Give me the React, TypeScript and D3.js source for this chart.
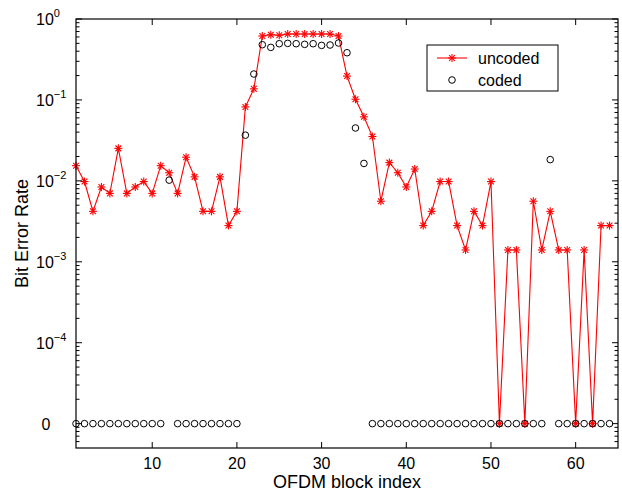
import React from "react";
import * as d3 from "d3";

// block index 1..64
const blocks = d3.range(1, 65);

const uncoded = [
  0.0154, 0.0098, 0.0042, 0.0084, 0.007, 0.0252, 0.007, 0.0084, 0.0098, 0.007,
  0.0154, 0.0126, 0.007, 0.0196, 0.0112, 0.0042, 0.0042, 0.0112, 0.0028, 0.0042,
  0.082, 0.137, 0.616, 0.64, 0.63, 0.652, 0.652, 0.652, 0.652, 0.652,
  0.652, 0.616, 0.197, 0.102, 0.0618, 0.0353, 0.0056, 0.0168, 0.0126, 0.0084,
  0.014, 0.0028, 0.0042, 0.0098, 0.0098, 0.0028, 0.0014, 0.0042, 0.0028, 0.0098,
  0, 0.0014, 0.0014, 0, 0.0056, 0.0014, 0.0042, 0.0014, 0.0014, 0,
  0.0014, 0, 0.0028, 0.0028,
];

const coded = [
  0, 0, 0, 0, 0, 0, 0, 0, 0, 0,
  0, 0.0102, 0, 0, 0, 0, 0, 0, 0, 0,
  0.0367, 0.209, 0.481, 0.446, 0.495, 0.5, 0.495, 0.486, 0.495, 0.472,
  0.477, 0.505, 0.383, 0.045, 0.0164, 0, 0, 0, 0, 0,
  0, 0, 0, 0, 0, 0, 0, 0, 0, 0,
  0, 0, 0, 0, 0, 0, 0.0183, 0, 0, 0,
  0, 0, 0, 0,
];

const xTicks = [10, 20, 30, 40, 50, 60];
const yExponents = [0, -1, -2, -3, -4];
const ZERO_AT = 1e-5; // zero BER is drawn at this level, labelled "0"

const W = 622;
const H = 492;
const m = { left: 76, right: 618, top: 19, bottom: 448 };
const font = "'Liberation Sans', Arial, Helvetica, sans-serif";

const x = d3.scaleLinear().domain([1, 65]).range([m.left, m.right]);
const y = d3.scaleLog().domain([5e-6, 1]).range([m.bottom, m.top]);
const yv = (v: number) => y(v === 0 ? ZERO_AT : v);

const Star = ({ cx, cy, r = 4 }: { cx: number; cy: number; r?: number }) => {
  const d = r * 0.72;
  return (
    <g stroke="#ff0000" strokeWidth={1.1}>
      <line x1={cx - r} y1={cy} x2={cx + r} y2={cy} />
      <line x1={cx} y1={cy - r} x2={cx} y2={cy + r} />
      <line x1={cx - d} y1={cy - d} x2={cx + d} y2={cy + d} />
      <line x1={cx - d} y1={cy + d} x2={cx + d} y2={cy - d} />
    </g>
  );
};

export default function App() {
  const line = d3
    .line<number>()
    .x((_, i) => x(blocks[i]))
    .y((v) => yv(v));

  // minor log ticks, 2..9 per decade, from 5e-6 up to 1
  const minor: number[] = [];
  for (let e = -6; e < 0; e++) {
    for (let k = 2; k <= 9; k++) {
      const v = k * Math.pow(10, e);
      if (v >= 5e-6 && v < 1) minor.push(v);
    }
  }
  const majorY = [...yExponents.map((e) => Math.pow(10, e)), ZERO_AT];

  return (
    <svg
      width={W}
      height={H}
      style={{ position: "absolute", left: 0, top: 0, background: "#fff" }}
      fontFamily={font}
    >
      <rect width={W} height={H} fill="#fff" />

      {/* uncoded */}
      <path d={line(uncoded) || ""} fill="none" stroke="#ff0000" strokeWidth={1.1} />
      {uncoded.map((v, i) => (
        <Star key={"s" + i} cx={x(blocks[i])} cy={yv(v)} />
      ))}

      {/* coded */}
      {coded.map((v, i) => (
        <circle
          key={"c" + i}
          cx={x(blocks[i])}
          cy={yv(v)}
          r={3.3}
          fill="none"
          stroke="#000"
          strokeWidth={1}
        />
      ))}

      {/* axes box */}
      <rect
        x={m.left}
        y={m.top}
        width={m.right - m.left}
        height={m.bottom - m.top}
        fill="none"
        stroke="#000"
        strokeWidth={1.2}
      />

      {/* x ticks */}
      {xTicks.map((t) => (
        <g key={"xt" + t}>
          <line x1={x(t)} x2={x(t)} y1={m.bottom} y2={m.bottom - 6} stroke="#000" />
          <line x1={x(t)} x2={x(t)} y1={m.top} y2={m.top + 6} stroke="#000" />
          <text x={x(t)} y={469} fontSize={16} textAnchor="middle">
            {t}
          </text>
        </g>
      ))}

      {/* y ticks */}
      {majorY.map((v, i) => (
        <g key={"ym" + i}>
          <line x1={m.left} x2={m.left + 6} y1={y(v)} y2={y(v)} stroke="#000" />
          <line x1={m.right} x2={m.right - 6} y1={y(v)} y2={y(v)} stroke="#000" />
        </g>
      ))}
      {minor.map((v, i) => (
        <g key={"yn" + i}>
          <line x1={m.left} x2={m.left + 3.5} y1={y(v)} y2={y(v)} stroke="#000" />
          <line x1={m.right} x2={m.right - 3.5} y1={y(v)} y2={y(v)} stroke="#000" />
        </g>
      ))}

      {yExponents.map((e) => {
        const yy = y(Math.pow(10, e));
        return (
          <text key={"yl" + e} x={36} y={yy + 6} fontSize={16}>
            10
            <tspan dy={-8} fontSize={11}>
              {e === 0 ? "0" : "\u2212" + Math.abs(e)}
            </tspan>
          </text>
        );
      })}
      <text x={46} y={y(ZERO_AT) + 6} fontSize={16} textAnchor="middle">
        0
      </text>

      {/* axis labels */}
      <text x={x(33)} y={488} fontSize={18} textAnchor="middle">
        OFDM block index
      </text>
      <text
        transform={`translate(28, ${(m.top + m.bottom) / 2}) rotate(-90)`}
        fontSize={18}
        textAnchor="middle"
      >
        Bit Error Rate
      </text>

      {/* legend */}
      <rect x={427} y={45} width={131} height={46} fill="#fff" stroke="#000" strokeWidth={1} />
      <line x1={437} x2={467} y1={58} y2={58} stroke="#ff0000" strokeWidth={1.1} />
      <Star cx={452} cy={58} />
      <text x={478} y={64} fontSize={16}>
        uncoded
      </text>
      <circle cx={452} cy={80} r={3.3} fill="none" stroke="#000" />
      <text x={478} y={86} fontSize={16}>
        coded
      </text>
    </svg>
  );
}
